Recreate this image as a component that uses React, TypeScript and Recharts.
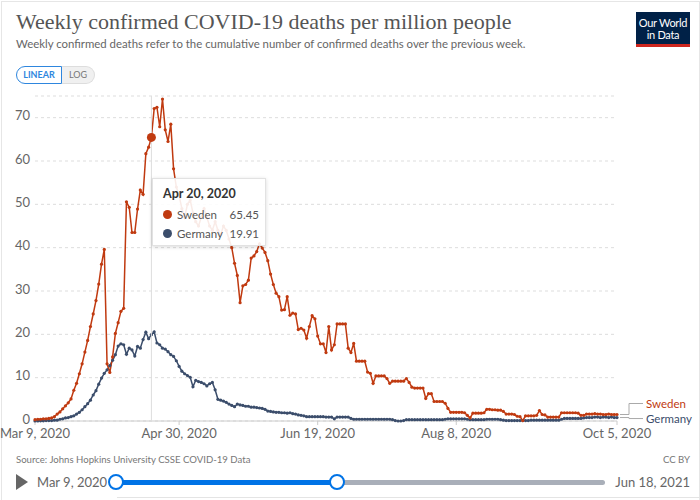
import React from 'react'
import { LineChart, Line, XAxis, YAxis, CartesianGrid, Tooltip, LabelList } from 'recharts'

// daily values from Mar 9, 2020 (day 0) to Oct 5, 2020 (day 210)
const sweden = [
  0.3, 0.4, 0.4, 0.5, 0.5, 0.6, 0.7, 1.0, 1.6, 2.1,
  2.8, 3.5, 4.2, 5.1, 7.1, 8.7, 10.9, 13.2, 15.9, 18.6,
  21.8, 24.7, 27.8, 31.6, 36.2, 39.6, 13.2, 11.2, 14.8, 20.2,
  22.7, 25.3, 26.0, 50.6, 49.3, 43.5, 43.5, 48.9, 53.3, 52.3,
  61.7, 63.2, 65.45, 72.1, 72.4, 67.9, 74.3, 67.2, 64.5, 68.5,
  58.2, 54, 52, 49, 47, 50, 51, 48, 46, 45,
  47, 49, 47, 45, 44, 46, 44, 43, 45, 44,
  42, 40, 36.4, 33.6, 27.3, 31.2, 31.5, 32.5, 37.6, 38.1,
  39.1, 40.9, 39.9, 38.9, 37.0, 33.9, 31.5, 29.5, 28.7, 25.6,
  25.7, 28.7, 24.4, 24.9, 24.7, 21.1, 21.4, 21.0, 19.1, 21.8,
  24.3, 23.6, 19.6, 17.8, 17.8, 15.8, 21.8, 16.4, 17.6, 22.4,
  22.4, 22.4, 22.4, 16.8, 15.8, 17.9, 13.8, 13.8, 13.8, 13.8,
  11.3, 11.0, 8.7, 10.4, 10.4, 10.4, 10.4, 9.8, 8.7, 9.2,
  9.2, 9.2, 9.2, 9.2, 9.8, 8.9, 7.8, 7.6, 7.6, 7.6,
  7.6, 5.2, 6.3, 6.3, 4.5, 4.5, 4.5, 4.5, 4.1, 2.9,
  2.0, 2.0, 2.0, 2.0, 2.0, 1.9, 1.3, 0.7, 1.8, 1.8,
  1.8, 1.8, 1.9, 2.7, 2.7, 2.6, 2.6, 2.5, 2.5, 2.2,
  1.6, 1.6, 1.6, 1.5, 1.1, 1.0, 0.1, 1.2, 1.2, 1.2,
  1.2, 1.3, 2.4, 1.5, 1.4, 0.9, 0.9, 0.9, 0.9, 0.9,
  1.9, 1.9, 1.9, 1.9, 1.9, 1.9, 1.8, 1.3, 1.3, 1.6,
  1.6, 1.6, 1.7, 1.6, 1.6, 1.5, 1.5, 1.6, 1.5, 1.5, 1.5,
]

const germany = [
  0, 0, 0.05, 0.05, 0.1, 0.1, 0.1, 0.2, 0.2, 0.4,
  0.5, 0.7, 0.8, 1.0, 1.2, 1.6, 2.0, 2.6, 3.3, 4.0,
  4.8, 6.0, 7.0, 8.5, 9.9, 11.0, 11.8, 12.8, 14.0, 15.3,
  17.3, 17.8, 17.6, 15.4, 16.8, 16.4, 15.0, 17.2, 16.8, 18.8,
  20.5, 19.0, 19.91, 20.6, 18.0, 17.6, 16.8, 16.6, 16.0, 15.3,
  14.9, 13.9, 12.6, 11.5, 10.9, 10.5, 10.1, 7.9, 9.4, 9.1,
  8.9, 8.6, 8.1, 8.6, 8.9, 7.2, 5.0, 4.8, 4.6, 4.3,
  3.9, 3.6, 3.3, 3.9, 3.7, 3.6, 3.4, 3.4, 3.2, 3.2,
  3.1, 3.0, 2.9, 2.7, 2.3, 2.2, 2.1, 2.0, 2.0, 1.9,
  1.9, 1.8, 1.9, 1.7, 1.6, 1.4, 1.3, 1.2, 1.0, 1.0,
  1.0, 1.0, 1.0, 1.0, 1.0, 0.9, 0.9, 0.9, 0.5, 0.9,
  0.9, 0.9, 0.9, 0.9, 0.6, 0.4, 0.4, 0.4, 0.4, 0.4,
  0.4, 0.4, 0.4, 0.4, 0.4, 0.4, 0.4, 0.4, 0.4, 0.3,
  0.1, 0.0, 0.0, 0.1, 0.3, 0.3, 0.3, 0.3, 0.3, 0.3,
  0.3, 0.3, 0.3, 0.3, 0.3, 0.3, 0.3, 0.3, 0.4, 0.5,
  0.5, 0.5, 0.5, 0.5, 0.5, 0.5, 0.4, 0.3, 0.3, 0.3,
  0.3, 0.3, 0.3, 0.4, 0.4, 0.4, 0.4, 0.4, 0.3, 0.2,
  0.1, 0.1, 0.1, 0.1, 0.1, 0.1, 0.1, 0.1, 0.1, 0.2,
  0.2, 0.2, 0.2, 0.2, 0.2, 0.2, 0.2, 0.2, 0.2, 0.2,
  0.4, 0.6, 0.6, 0.6, 0.6, 0.6, 0.6, 0.6, 0.7, 0.8,
  0.8, 0.8, 0.9, 0.9, 0.8, 0.9, 0.9, 0.8, 0.9, 0.8, 0.8,
]

const xTicks = [0, 52, 102, 152, 210]
const xTickLabels = ['Mar 9, 2020', 'Apr 30, 2020', 'Jun 19, 2020', 'Aug 8, 2020', 'Oct 5, 2020']
const yTicks = [0, 10, 20, 30, 40, 50, 60, 70]
const hoverDay = 42

const SWEDEN_COLOR = '#c03a10'
const GERMANY_COLOR = '#3b4d6b'
const FONT = 'Lato, "Noto Sans", sans-serif'
const MONTHS = ['Jan', 'Feb', 'Mar', 'Apr', 'May', 'Jun', 'Jul', 'Aug', 'Sep', 'Oct', 'Nov', 'Dec']

const fmtDay = (d: number) => {
  const dt = new Date(2020, 2, 9 + d)
  return `${MONTHS[dt.getMonth()]} ${dt.getDate()}, ${dt.getFullYear()}`
}

const data = sweden.map((v, i) => ({ day: i, sweden: v, germany: germany[i] }))
const lastIndex = data.length - 1

function HoverBox({ active, payload, label }: any) {
  if (!active || !payload || !payload.length) return null
  const rows = [
    { name: 'Sweden', color: SWEDEN_COLOR, key: 'sweden' },
    { name: 'Germany', color: GERMANY_COLOR, key: 'germany' },
  ]
  const row = payload[0].payload
  return (
    <div style={{
      width: 114, height: 68, boxSizing: 'border-box', padding: '7px 6px 0 10px',
      background: 'rgba(255,255,255,0.9)', border: '1px solid #e2e2e2',
      boxShadow: '0 1px 4px rgba(0,0,0,0.15)', fontFamily: FONT, color: '#333'
    }}>
      <div style={{ fontSize: 12.5, fontWeight: 700, lineHeight: '16px', marginBottom: 3 }}>{fmtDay(label)}</div>
      {rows.map(r => (
        <div key={r.key} style={{ display: 'flex', alignItems: 'center', height: 19, fontSize: 11.5 }}>
          <span style={{ width: 9, height: 9, borderRadius: 5, background: r.color, marginRight: 5, flexShrink: 0 }} />
          <span style={{ flex: 1, color: '#555', whiteSpace: 'nowrap' }}>{r.name}</span>
          <span style={{ color: '#555', marginLeft: 6, whiteSpace: 'nowrap' }}>{row[r.key].toFixed(2)}</span>
        </div>
      ))}
    </div>
  )
}

function EndLabel({ x, y, index, text, color, shift }: any) {
  if (index !== lastIndex) return null
  const ty = y + shift
  return (
    <g>
      {shift !== 0
        ? <polyline points={`${x + 3},${y} ${x + 12},${y} ${x + 12},${ty} ${x + 26},${ty}`} fill="none" stroke="#aaa" strokeWidth={1} />
        : <line x1={x + 3} y1={y} x2={x + 26} y2={y} stroke="#aaa" strokeWidth={1} />}
      <text x={x + 29} y={ty} dy="0.35em" fill={color} fontSize={11.5} fontFamily={FONT}>{text}</text>
    </g>
  )
}

export default function App() {
  return (
    <div style={{ position: 'absolute', left: 0, top: 0, width: 700, height: 500, background: '#fff', overflow: 'hidden' }}>
      <div style={{ position: 'absolute', left: 1, top: 1, width: 697, height: 520, border: '1px solid #e6e6e6' }} />
      <div style={{ position: 'absolute', left: 16, top: 9, fontFamily: '"Liberation Serif", serif', fontSize: 22, color: '#555', whiteSpace: 'nowrap' }}>
        Weekly confirmed COVID-19 deaths per million people
      </div>
      <div style={{ position: 'absolute', left: 16, top: 37, fontFamily: FONT, fontSize: 11.4, color: '#666', whiteSpace: 'nowrap' }}>
        Weekly confirmed deaths refer to the cumulative number of confirmed deaths over the previous week.
      </div>
      <div style={{ position: 'absolute', left: 636, top: 12, width: 54, height: 35, background: '#002147', color: '#fff', fontFamily: FONT, fontSize: 11, lineHeight: '12px', textAlign: 'center', boxSizing: 'border-box', paddingTop: 5, letterSpacing: -0.3 }}>
        Our World<br />in Data
        <div style={{ position: 'absolute', left: 0, bottom: 0, width: 54, height: 3, background: '#ce261e' }} />
      </div>
      <div style={{ position: 'absolute', left: 16, top: 66, display: 'flex', fontFamily: FONT, fontSize: 9, height: 18 }}>
        <div style={{ width: 46, height: 18, boxSizing: 'border-box', border: '1px solid #2e86de', borderRadius: '9px 0 0 9px', color: '#2e86de', textAlign: 'center', lineHeight: '16px', fontWeight: 700 }}>LINEAR</div>
        <div style={{ width: 33, height: 18, boxSizing: 'border-box', border: '1px solid #ddd', borderLeft: 'none', borderRadius: '0 9px 9px 0', background: '#f0f0f0', color: '#777', textAlign: 'center', lineHeight: '16px' }}>LOG</div>
      </div>

      <div style={{ position: 'absolute', left: 0, top: 0 }}>
        <LineChart width={700} height={500} data={data} margin={{ top: 96, right: 83, bottom: 49, left: 0 }}>
          <CartesianGrid vertical={false} strokeDasharray="3 3" stroke="#ddd" />
          <XAxis
            type="number"
            dataKey="day"
            domain={[0, 210]}
            ticks={xTicks}
            interval={0}
            height={30}
            tickFormatter={(v: number) => xTickLabels[xTicks.indexOf(v)]}
            axisLine={{ stroke: '#ccc' }}
            tickLine={{ stroke: '#ccc' }}
            tickSize={4}
            tickMargin={4}
            tick={{ fill: '#666', fontSize: 13, fontFamily: FONT }}
          />
          <YAxis
            domain={[0, 75]}
            ticks={yTicks}
            width={35}
            axisLine={false}
            tickLine={false}
            tickSize={0}
            tickMargin={5}
            tick={{ fill: '#666', fontSize: 13, fontFamily: FONT, dy: -2 }}
          />
          <Tooltip
            content={<HoverBox />}
            defaultIndex={hoverDay}
            position={{ x: 152, y: 178 }}
            cursor={{ stroke: '#ddd', strokeWidth: 1 }}
            isAnimationActive={false}
            wrapperStyle={{ outline: 'none' }}
          />
          <Line
            type="linear"
            dataKey="germany"
            stroke={GERMANY_COLOR}
            strokeWidth={1.5}
            dot={{ r: 1.6, fill: GERMANY_COLOR, stroke: 'none' }}
            activeDot={false}
            isAnimationActive={false}
          >
            <LabelList dataKey="germany" content={(p: any) => <EndLabel {...p} text="Germany" color={GERMANY_COLOR} shift={1} />} />
          </Line>
          <Line
            type="linear"
            dataKey="sweden"
            stroke={SWEDEN_COLOR}
            strokeWidth={1.5}
            dot={{ r: 1.6, fill: SWEDEN_COLOR, stroke: 'none' }}
            activeDot={{ r: 4.5, fill: SWEDEN_COLOR, stroke: 'none' }}
            isAnimationActive={false}
          >
            <LabelList dataKey="sweden" content={(p: any) => <EndLabel {...p} text="Sweden" color={SWEDEN_COLOR} shift={-11} />} />
          </Line>
        </LineChart>
      </div>

      <div style={{ position: 'absolute', left: 16, top: 454, fontFamily: FONT, fontSize: 9.6, color: '#777' }}>
        Source: Johns Hopkins University CSSE COVID-19 Data
      </div>
      <div style={{ position: 'absolute', right: 10, top: 454, fontFamily: FONT, fontSize: 9.6, color: '#777' }}>CC BY</div>

      <div style={{ position: 'absolute', left: 16, top: 474, width: 0, height: 0, borderTop: '8px solid transparent', borderBottom: '8px solid transparent', borderLeft: '12px solid #666' }} />
      <div style={{ position: 'absolute', left: 37, top: 474, fontFamily: FONT, fontSize: 13, color: '#666' }}>Mar 9, 2020</div>
      <div style={{ position: 'absolute', left: 116, top: 480, width: 489, height: 5, background: '#a9afb9', borderRadius: 3 }} />
      <div style={{ position: 'absolute', left: 116, top: 480, width: 221, height: 5, background: '#0073e6' }} />
      <div style={{ position: 'absolute', left: 108, top: 474, width: 16, height: 16, boxSizing: 'border-box', borderRadius: 8, border: '2px solid #0073e6', background: '#fff' }} />
      <div style={{ position: 'absolute', left: 329, top: 474, width: 16, height: 16, boxSizing: 'border-box', borderRadius: 8, border: '2px solid #0073e6', background: '#fff' }} />
      <div style={{ position: 'absolute', right: 10, top: 474, fontFamily: FONT, fontSize: 13, color: '#666' }}>Jun 18, 2021</div>
      <div style={{ position: 'absolute', left: 117, top: 497, width: 583, height: 1, background: '#e4e4e4' }} />
    </div>
  )
}
